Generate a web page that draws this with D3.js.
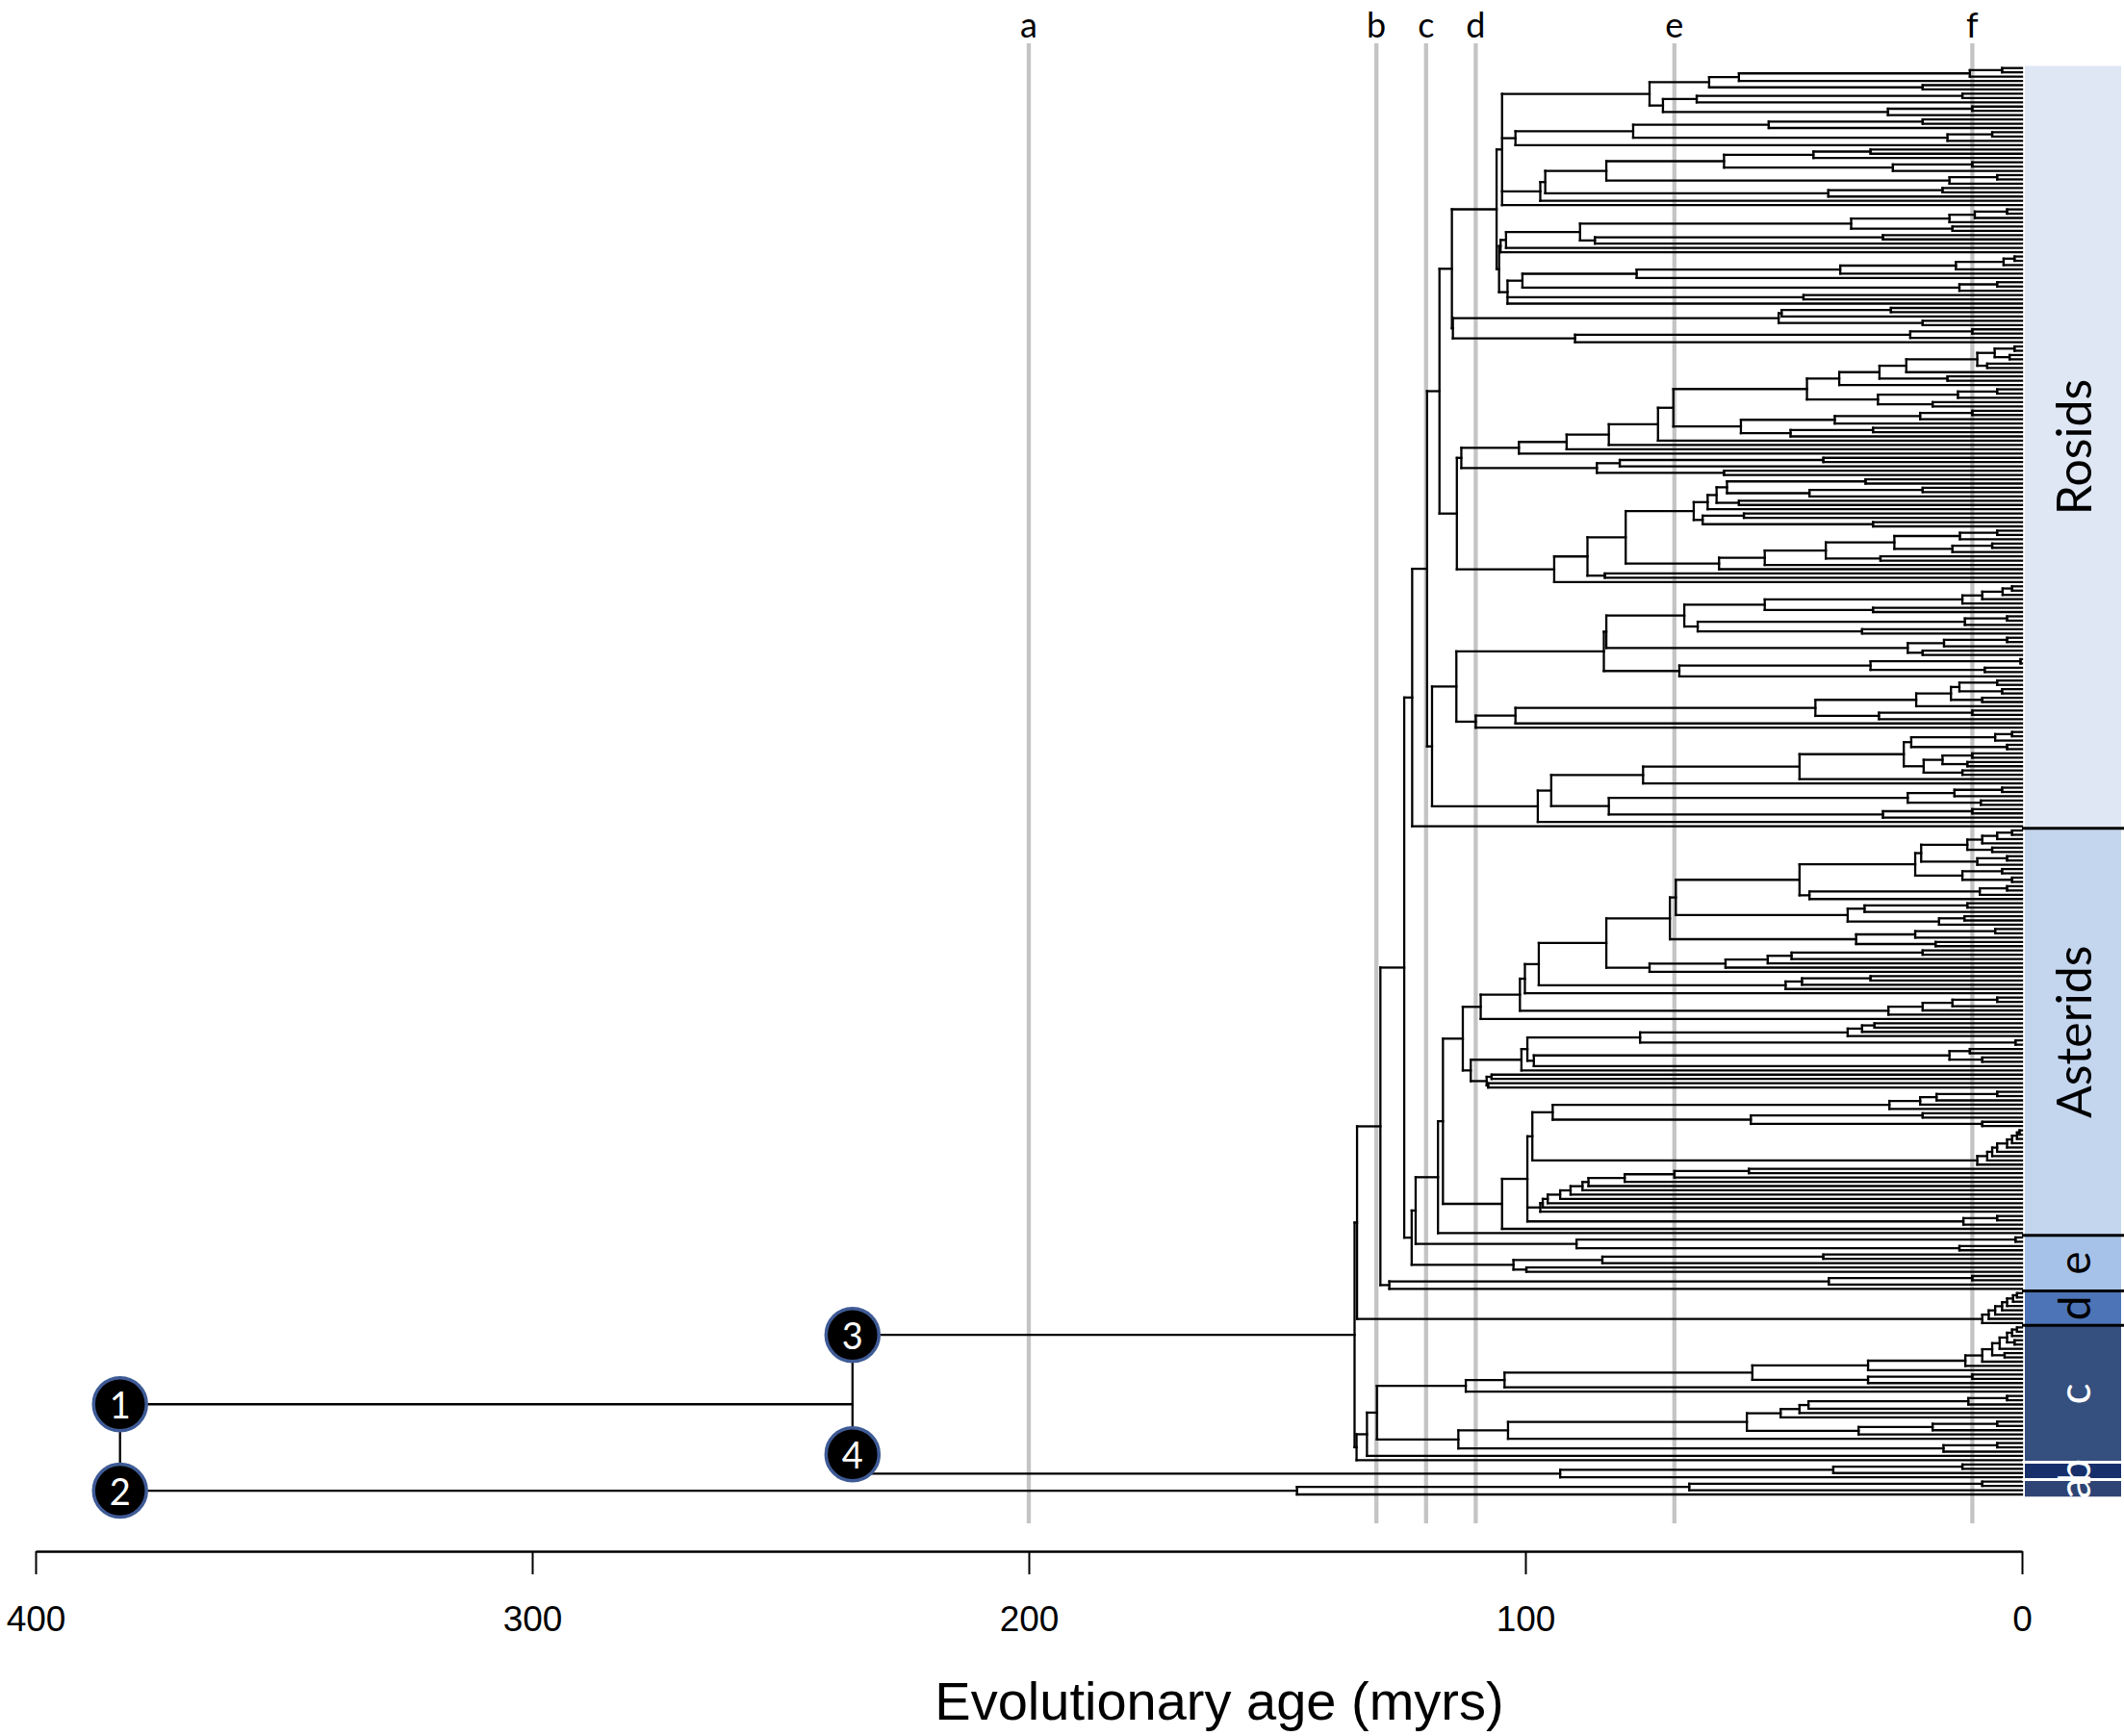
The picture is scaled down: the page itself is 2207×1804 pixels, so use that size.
<!DOCTYPE html>
<html><head><meta charset="utf-8">
<script src="https://cdn.jsdelivr.net/npm/d3@7"></script>
<style>body{margin:0;background:#fff}svg{display:block}</style>
</head><body>
<svg id="chart" width="2207" height="1804"></svg>
<script>
// ---------- DATA ----------
// Reference time lines (myrs) and their letters
const gridAges = [200, 130, 120, 110, 70, 10];
const gridLabels = ["a", "b", "c", "d", "e", "f"];
// Axis ticks
const tickValues = [400, 300, 200, 100, 0];
const axisTitle = "Evolutionary age (myrs)";
// Numbered nodes
const nodeLabels = ["1", "2", "3", "4"];

// Tree (Newick-like: x = leaf, number after ")" = node age in myrs)
// Rosids
const P1 = "(((((x,x)4,x)10.5,x)57,(x,x)20)63,(((x,x)12,x)65.5,((x,x)10,x)27)72.3)75";
const P2 = "((((x,x)20,x)51,((x,x)6,x)15)78.3,x)102";
const P3 = "((((((x,x)30.5,x)42,((x,x)10,x)26)60,((x,x)5,x)14.6)83.7,((x,x)16,x)39)96,x)97";
const P5 = "((((((x,x)3,x)9.5,x)14.6,(x,x)14)34.4,((x,x)28,x)86)89,x)103.9";
const P7 = "((((((x,x)1.5,x)3.7,x)13.3,x)36.6,x)77.6,((x,x)5,x)12.6)100.6";
const L105 = `((${P1},${P2},${P3},x)104.7,((${P5},x)105,(${P7},(x,x)44,x)103.6)105.3)105.8`;
const P8 = "(((x,x)26.4,x)48.4,(x,x)20)49";
const P9 = "(((x,x)10,x)22.5,x)90";
const R114_8 = `(${L105},(${P8},${P9})114.6)114.8`;
const C9 = "(((x,x)1.5,(x,x)2.5)5.5,(x,x)7)9";
const R36_8 = `(((${C9},x)23.3,(x,x)15)28.7,x)36.8`;
const R29 = "(((x,x)5,x)12.9,(x,x)18)29";
const R56_6 = "((((x,x)10,x)20.5,x)37.7,((x,x)30,x)46.6)56.6";
const R91_7 = `(((((${R36_8},${R29})43.3,${R56_6})70.2,x)73.3,x)83.2,x)91.7`;
const R85_6 = "(((x,x)40,x)81,(x,x)60)85.6";
const R112_9 = `((${R91_7},x)101.3,${R85_6})112.9`;
const R66_1 = "(((((x,x)31.5,((x,x)20,x)42.8)59.4,(x,x)57)61.5,x)63.3,((x,x)56,(x,x)30)64.3)66.1";
const R61 = "((((((x,x)5,x)12.5,((x,x)6,x)14)25.7,(x,x)28.5)39.5,x)51.8,x)61";
const R94_2 = `(((${R66_1},${R61})79.8,(x,x)84)87.5,x)94.2`;
const R113_8 = `(${R112_9},${R94_2})113.8`;
const R117_3 = `(${R114_8},${R113_8})117.3`;
const R51_8 = "(((((x,x)2,x)3.9,x)8,x)12,(x,x)30)51.8";
const R65_3 = "(((x,x)3,x)11.5,(x,x)32.2)65.3";
const R23 = "(((x,x)3,x)15.7,(x,x)20)23";
const R69 = "(((x,x)0.3,(x,x)7.5)30.5,x)69";
const R84_2 = `(((${R51_8},${R65_3})68,${R23})83.7,${R69})84.2`;
const R21_3 = "((((x,x)5,(x,x)4)12.6,(x,x)8)14.3,x)21.3";
const R110 = `(((${R21_3},((x,x)10,x)28.8)41.6,x)102,x)110`;
const R44_8 = "(((((x,x)2,x)5.4,(x,x)3)22.3,(((x,x)10,(x,x)11)16,(x,x)12)19.8)23.8,x)44.8";
const R83_2 = "((((x,x)4,x)13.6,(x,x)8.3)23,((x,x)10,x)28)83.2";
const R118_8 = `((${R84_2},${R110})113.9,(((${R44_8},x)76.3,${R83_2})94.8,x)97.5)118.8`;
const ROSIDS = `((${R117_3},${R118_8})119.8,x)122.8`;
// Asterids
const A21_5 = "((((((x,x)2,x)5,x)8,(x,x)6)11,((x,x)3,x)9)20.3,((x,x)4,(x,x)2)12)21.5";
const A35_1 = "(((x,x)11,x)31.7,((x,x)11.6,x)16.7)35.1";
const A33_4 = "(((x,x)5.4,x)21.5,(x,x)17.4)33.4";
const A75 = "(((((x,x)20,x)46.4,x)51.2,x)59.7,x)75";
const A47_6 = "(((x,x)30.5,x)44.3,x)47.6";
const A26_9 = "((((x,x)5,x)14,x)20,x)26.9";
const A70_9 = `(((${A21_5},(((x,x)3,x)8.5,x)42.8)44.8,${A35_1})69.7,${A33_4})70.9`;
const A109 = `(((((${A70_9},${A75})83.7,${A47_6})97.3,x)100.1,${A26_9})101.1,x)109`;
const A76_9 = "((((x,x)29.7,x)32.2,x)35.1,(x,x)1.3)76.9";
const A98_3 = "(((x,x)10.5,(x,x)8)14.6,x)98.3";
const A107_8 = "((x,x)106.8,(x,x)107.5)107.8";
const A111 = `(((${A76_9},${A98_3})99.6,x)100.8,${A107_8})111`;
const A94_5 = "(((((x,x)5,x)17.2,x)20.5,x)26.7,((x,x)20,(x,x)8)54.6)94.5";
const A9 = "((((((((x,x)0.5,x)1,x)2,x)3,x)5,x)6,x)7,x)9";
const A97 = "((((((((((x,x)55,x)70,x)80,x)87.3,x)88.5,x)90.9,x)93,x)95.5,x)96.5,x)97";
const A104_7 = `(((${A94_5},${A9})98.6,${A97},((x,x)5,x)11.8)99.6,x)104.7`;
const ASTERIDS = `(((${A109},${A111})112.6,${A104_7})116.6,x)117.6`;
// e, d, c, b, a groups
const E1 = "((x,x)1.3,(x,x)12.6)89.7";
const E2 = "(((x,x)40,x)84.5,(x,x)99.8)102.4";
const E3 = "(((x,x)10,x)38.9,x)127.4";
const DGRP = "(((((((x,x)1,x)1.8,x)3,x)4,x)5.4,x)6.7,x)8";
const CL = "((((((x,x)1,x)2,(x,x)1.5)3,x)4.5,(x,x)3.5)6,x)8";
const C112 = `(((((${CL},x)11.4,x)31,((x,x)10,x)31)54.3,x)104.2,x)112`;
const C113_5 = "((((((((x,x)3,x)10.8,x)43,x)44.8,x)48.6,(((x,x)5,x)18,x)32.9)55.4,x)103.5,((x,x)5,x)15.8)113.5";
const CGRP = `(((${C112},${C113_5})129.9,x)131.9,x)134`;
const BGRP = "(((x,x)12,x)38,x)93";
const AGRP = "(((x,x)8,x)67,x)146";
const X1 = `(((${ROSIDS},((${ASTERIDS},${E1})122.1,${E2})122.9)124.4,${E3})129.2,${DGRP})133.9`;
const TREE = `(((${X1},${CGRP})134.4,${BGRP})235.5,${AGRP})383`;

// Coloured side bands (label, member clades, fill, text colour)
const bandLabels = ["Rosids", "Asterids", "e", "d", "c", "b", "a"];
const bandClades = [[ROSIDS], [ASTERIDS], [E1, E2, E3], [DGRP], [CGRP], [BGRP], [AGRP]];
const bandColors = ["#dfe7f5", "#c4d5ee", "#a7c2e8", "#4d74b6", "#354f7e", "#17306c", "#2d4474"];
const bandTextColors = ["#000", "#000", "#000", "#000", "#fff", "#fff", "#fff"];
const bandSepColors = ["#000", "#000", "#000", "#000", "#fff", "#fff"];

// ---------- PARSE ----------
function parseNewick(s) {
  let i = 0;
  function node() {
    if (s[i] === "(") {
      i++;
      const ch = [node()];
      while (s[i] === ",") { i++; ch.push(node()); }
      if (s[i] !== ")") throw new Error("expected ) at " + i);
      i++;
      const m = /^[0-9.]+/.exec(s.slice(i));
      let age = 0;
      if (m) { age = +m[0]; i += m[0].length; }
      return { age, children: ch };
    } else if (s[i] === "x") { i++; return { age: 0 }; }
    throw new Error("bad char at " + i);
  }
  const r = node();
  if (i !== s.length) throw new Error("trailing text");
  return r;
}

// ---------- LAYOUT ----------
const svg = d3.select("#chart");
const x = d3.scaleLinear().domain([400, 0]).range([37, 2101]);
const root = d3.hierarchy(parseNewick(TREE));
const leaves = root.leaves();
const yLeaf = d3.scaleLinear().domain([0, leaves.length - 1]).range([70.7, 1553]);
leaves.forEach((d, i) => { d.y = yLeaf(i); });
root.eachAfter(d => {
  if (d.children) d.y = (d.children[0].y + d.children[d.children.length - 1].y) / 2;
});
const step = yLeaf(1) - yLeaf(0);

// grid lines
const gTop = 45, gBottom = 1583;
svg.append("g").selectAll("line").data(gridAges).join("line")
  .attr("x1", d => x(d)).attr("x2", d => x(d))
  .attr("y1", gTop).attr("y2", gBottom)
  .attr("stroke", "#c4c4c4").attr("stroke-width", 4.3);
svg.append("g").selectAll("text").data(gridAges).join("text")
  .attr("x", d => x(d)).attr("y", 39)
  .attr("text-anchor", "middle")
  .attr("font-family", "Lato, 'Open Sans', sans-serif").attr("font-size", 36)
  .text((d, i) => gridLabels[i]);

// tree
const gTree = svg.append("g").attr("stroke", "#000").attr("stroke-width", 2.3).attr("stroke-linecap", "square");
const internal = root.descendants().filter(d => d.children);
gTree.selectAll("line.v").data(internal).join("line").attr("class", "v")
  .attr("x1", d => x(d.data.age)).attr("x2", d => x(d.data.age))
  .attr("y1", d => d.children[0].y).attr("y2", d => d.children[d.children.length - 1].y);
gTree.selectAll("line.h").data(root.descendants().filter(d => d.parent)).join("line").attr("class", "h")
  .attr("x1", d => x(d.parent.data.age)).attr("x2", d => x(d.data.age))
  .attr("y1", d => d.y).attr("y2", d => d.y);

// bands
const countLeaves = s => (s.match(/x/g) || []).length;
const bandSizes = bandClades.map(a => d3.sum(a, countLeaves));
let cum = 0;
const bands = bandLabels.map((lab, i) => {
  const b = { lab, i, first: cum, last: cum + bandSizes[i] - 1 };
  cum += bandSizes[i];
  return b;
});
const bx0 = 2104, bx1 = 2204;
const gB = svg.append("g");
gB.selectAll("rect").data(bands).join("rect")
  .attr("x", bx0).attr("width", bx1 - bx0)
  .attr("y", d => yLeaf(d.first) - step / 2)
  .attr("height", d => yLeaf(d.last) - yLeaf(d.first) + step)
  .attr("fill", d => bandColors[d.i]);
gB.selectAll("line").data(bands.slice(0, -1)).join("line")
  .attr("x1", x(0)).attr("x2", 2207)
  .attr("y1", d => yLeaf(d.last) + step / 2).attr("y2", d => yLeaf(d.last) + step / 2)
  .attr("stroke", d => bandSepColors[d.i]).attr("stroke-width", 3);
gB.selectAll("text").data(bands).join("text")
  .attr("transform", d => `translate(2154,${(yLeaf(d.first) + yLeaf(d.last)) / 2}) rotate(-90)`)
  .attr("text-anchor", "middle").attr("dominant-baseline", "central")
  .attr("font-family", "Lato, 'Open Sans', sans-serif")
  .attr("font-size", d => d.lab.length > 1 ? 50 : 46)
  .attr("fill", d => bandTextColors[d.i])
  .text(d => d.lab);

// axis
const axisY = 1612;
const ax = svg.append("g").attr("transform", `translate(0,${axisY})`)
  .call(d3.axisBottom(x).tickValues(tickValues).tickSize(24).tickSizeOuter(0).tickPadding(33).tickFormat(d3.format("d")));
ax.select(".domain").attr("stroke-width", 2.5);
ax.selectAll(".tick line").attr("stroke-width", 2);
ax.selectAll("text").attr("font-family", "'Liberation Sans', Arial, sans-serif").attr("font-size", 37).attr("fill", "#000");
svg.append("text").attr("x", 1267).attr("y", 1787).attr("text-anchor", "middle")
  .attr("font-family", "'Liberation Sans', Arial, sans-serif").attr("font-size", 56)
  .text(axisTitle);

// numbered nodes
const n34 = root.children[0];
const nodeMarks = [
  { cx: x(root.data.age), cy: root.children[0].y },
  { cx: x(root.data.age), cy: root.children[root.children.length - 1].y },
  { cx: x(n34.data.age), cy: n34.children[0].y },
  { cx: x(n34.data.age), cy: n34.children[n34.children.length - 1].y - 20 }
];
const gN = svg.append("g").selectAll("g").data(nodeMarks).join("g")
  .attr("transform", d => `translate(${d.cx},${d.cy})`);
gN.append("circle").attr("r", 27.5).attr("fill", "#000").attr("stroke", "#3f5b96").attr("stroke-width", 3.5);
gN.append("text").attr("text-anchor", "middle").attr("dominant-baseline", "central")
  .attr("font-family", "Lato, 'Open Sans', sans-serif").attr("font-size", 38).attr("fill", "#fff")
  .text((d, i) => nodeLabels[i]);
</script>
</body></html>
